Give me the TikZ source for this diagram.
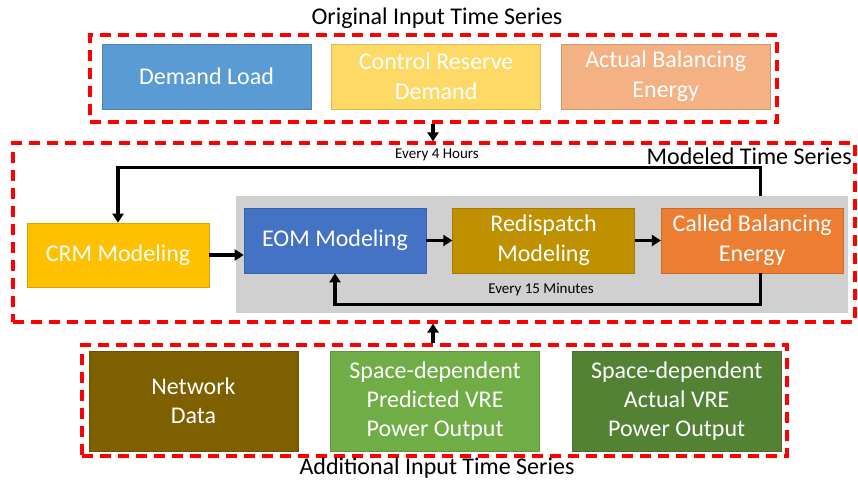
\documentclass[tikz,border=0pt]{standalone}
\usepackage{fontspec}
\setmainfont{Carlito}
\usetikzlibrary{arrows.meta,positioning,backgrounds}
\definecolor{demandblue}{HTML}{5B9BD5}
\definecolor{reserveyellow}{HTML}{FFD966}
\definecolor{balancepeach}{HTML}{F4B183}
\definecolor{crmgold}{HTML}{FFC000}
\definecolor{eomblue}{HTML}{4472C4}
\definecolor{redispgold}{HTML}{BF9000}
\definecolor{calledorange}{HTML}{ED7D31}
\definecolor{netbrown}{HTML}{7F6000}
\definecolor{predgreen}{HTML}{70AD47}
\definecolor{actgreen}{HTML}{548235}
\definecolor{loopgray}{HTML}{D0D0D0}
\definecolor{dashred}{HTML}{FF0000}
\tikzset{
  box/.style={rectangle, fill=#1, draw=#1!85!black, line width=0.6pt,
    text=white, align=center, minimum width=209pt, minimum height=65pt,
    inner sep=2pt, font=\fontsize{24}{30}\selectfont},
  modbox/.style={box=#1, minimum width=182pt},
  inbox/.style={box=#1, minimum height=100pt, font=\fontsize{24}{29}\selectfont},
  group/.style={rectangle, draw=dashred, line width=3.2pt,
    dash pattern=on 11pt off 7pt, inner sep=0pt},
  flow/.style={-{Triangle[length=9pt,width=11pt]}, line width=3.2pt},
  title/.style={font=\fontsize{24}{28}\selectfont, inner sep=0pt},
  lbl/.style={font=\fontsize{15}{18}\selectfont, inner sep=1pt},
}

\begin{document}
\begin{tikzpicture}[x=1pt, y=-1pt]
    \useasboundingbox (0,0) rectangle (858,482);

    % original inputs
    \node[title] (origtitle) at (437,18) {Original Input Time Series};
    \node[group, minimum width=687pt, minimum height=87pt] (origgroup) at (433.5,78.5) {};
    \node[box=demandblue] (demand) at (206.5,76.5) {Demand Load};
    \node[box=reserveyellow, right=20pt of demand] (reserve) {Control Reserve\\Demand};
    \node[box=balancepeach, right=20pt of reserve] (actbal) {Actual Balancing\\Energy};

    % modeled time series
    \node[group, minimum width=842pt, minimum height=179pt] (modgroup) at (434,232.5) {};
    \node[title, anchor=east] (modtitle) at (852,156) {Modeled Time Series};
    \node[fill=loopgray, minimum width=612pt, minimum height=117pt, inner sep=0pt] (loop) at (542,254.5) {};
    \node[modbox=crmgold, minimum height=64pt] (crm) at (118,255) {CRM Modeling};
    \node[modbox=eomblue] (eom) at (335,240.5) {EOM Modeling};
    \node[modbox=redispgold, right=26pt of eom] (redisp) {Redispatch\\Modeling};
    \node[modbox=calledorange, right=26pt of redisp] (called) {Called Balancing\\Energy};

    \draw[flow] (crm.east) -- (crm.east -| eom.west);
    \draw[flow] (eom) -- (redisp);
    \draw[flow] (redisp) -- (called);

    \coordinate (hourtop) at ([xshift=8pt]called.north |- loop.north);
    \draw[flow] (hourtop) -- ++(0,-28) -| (crm.north);
    \node[lbl] (hourlbl) at (437,155) {Every 4 Hours};
    \draw[flow] ([xshift=8pt]called.south) -- ++(0,31) -| (eom.south);
    \node[lbl] (minlbl) at (541,290) {Every 15 Minutes};

    % additional inputs
    \node[group, minimum width=705pt, minimum height=111pt] (addgroup) at (434.5,400.5) {};
    \node[inbox=netbrown] (network) at (193.5,401) {Network\\Data};
    \node[inbox=predgreen, right=32pt of network] (predvre) {Space-dependent\\Predicted VRE\\Power Output};
    \node[inbox=actgreen, right=32pt of predvre] (actvre) {Space-dependent\\Actual VRE\\Power Output};
    \node[title] (addtitle) at (437,468) {Additional Input Time Series};

    \draw[flow] (origgroup.south -| 433,0) -- (modgroup.north -| 433,0);
    \draw[flow] (addgroup.north -| 433,0) -- (modgroup.south -| 433,0);
\end{tikzpicture}
\end{document}
